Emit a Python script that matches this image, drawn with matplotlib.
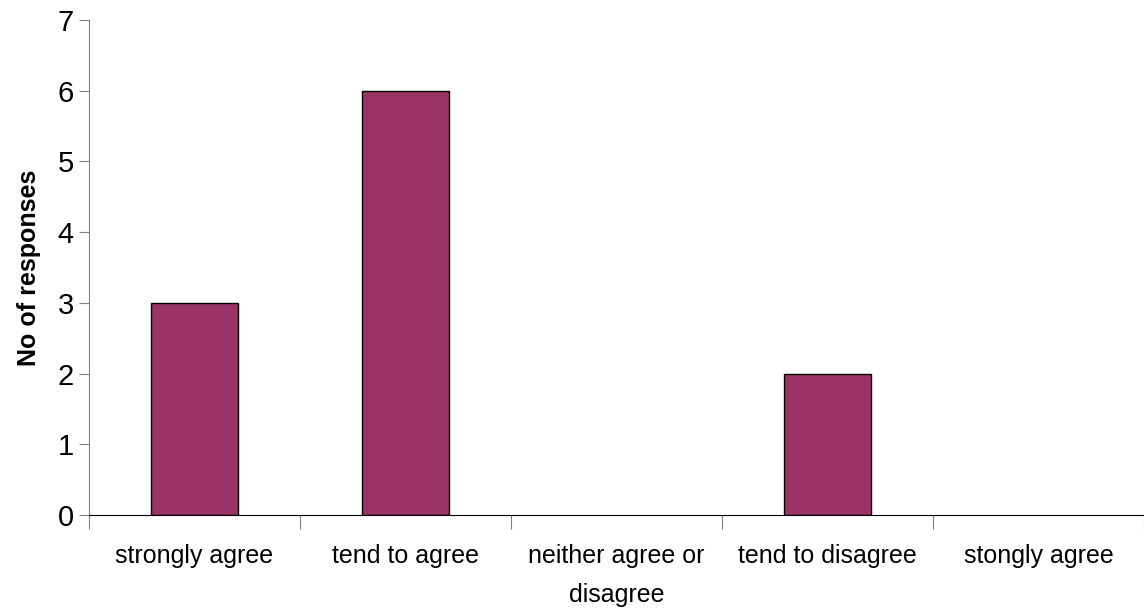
import matplotlib
matplotlib.use("Agg")
from matplotlib import pyplot as plt

# categories and counts
categories = ["strongly agree", "tend to agree", "neither agree or\ndisagree",
              "tend to disagree", "stongly agree"]
responses = [3, 6, 0, 2, 0]
yticks = [0, 1, 2, 3, 4, 5, 6, 7]

plt.rcParams['font.family'] = ['Liberation Sans', 'DejaVu Sans']

fig = plt.figure(figsize=(11.44, 6.10), dpi=100)
ax = fig.add_axes([89/1144, 1 - 515/610, 1 - 89/1144, 495/610])

x = list(range(len(categories)))
# empty categories get no outline
edges = ['black' if v > 0 else 'none' for v in responses]
ax.bar(x, responses, width=0.41, color="#993366", edgecolor=edges, linewidth=1)

ax.set_xlim(-0.5, len(categories) - 0.5)
ax.set_ylim(0, 7)
ax.set_yticks(yticks)
ax.tick_params(axis='y', labelsize=21, direction='out', length=7, color='#808080', pad=4)

# category separators as ticks below the axis
ax.set_xticks([i - 0.5 for i in range(len(categories) + 1)], minor=False)
ax.set_xticklabels([])
ax.tick_params(axis='x', which='major', direction='out', length=10, color='#808080')
ax.set_xticks(x, minor=True)
ax.set_xticklabels(categories, minor=True, fontsize=18, linespacing=1.8)
ax.tick_params(axis='x', which='minor', length=0, pad=21)

for s in ['top', 'right']:
    ax.spines[s].set_visible(False)
ax.spines['left'].set_color('#808080')
ax.spines['bottom'].set_color('black')

ax.set_ylabel("No of responses", fontsize=18, fontweight='bold', labelpad=12)

fig.savefig("out.png", dpi=100)
